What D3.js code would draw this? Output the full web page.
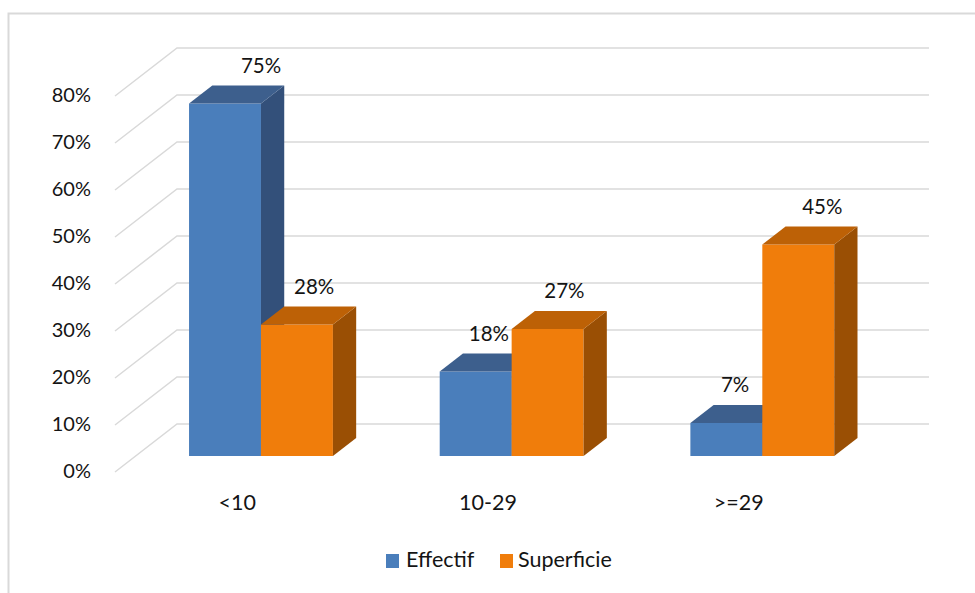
<!DOCTYPE html>
<html>
<head>
<meta charset="utf-8">
<script src="https://cdn.jsdelivr.net/npm/d3@7"></script>
<style>
  html, body { margin: 0; padding: 0; background: #ffffff; }
  svg { display: block; }
  text { font-family: Lato, "Open Sans", sans-serif; fill: #141414; }
</style>
</head>
<body>
<svg id="chart" width="975" height="593"></svg>
<script>
// Share of farms (Effectif) and of farmed area (Superficie) by size class
const categories = ["<10", "10-29", ">=29"];
const seriesNames = ["Effectif", "Superficie"];
const effectif = [0.75, 0.18, 0.07];
const superficie = [0.28, 0.27, 0.45];
const yTickValues = [0, 0.1, 0.2, 0.3, 0.4, 0.5, 0.6, 0.7, 0.8];

const seriesValues = { Effectif: effectif, Superficie: superficie };

const palette = {
  Effectif:   { front: "#4a7ebb", top: "#3d5f8d", side: "#33507a" },
  Superficie: { front: "#f07d0b", top: "#bd6106", side: "#9a4f04" }
};

const W = 975, H = 593;
const svg = d3.select("#chart");

// Outer chart frame
svg.append("rect")
  .attr("x", 8.5).attr("y", 13.5)
  .attr("width", W + 20).attr("height", H + 20)
  .attr("fill", "none").attr("stroke", "#d9d9d9").attr("stroke-width", 2);

// Oblique 3D projection: depth 0 = front of floor, depth 1 = back wall
const depthVec = { dx: 62, dy: -48 };
const proj = (px, py, d) => [px + depthVec.dx * d, py + depthVec.dy * d];

const y = d3.scaleLinear().domain([0, 0.8]).range([472, 96]);
const x = d3.scaleBand().domain(categories).range([115, 867]);
const bw = x.bandwidth();
const barW = bw * 0.287;
const inner = d3.scaleBand().domain(seriesNames).range([0, 2 * barW]);
const d0 = 0.333, d1 = 0.708;   // bar front / back depth

// Gridlines: side wall diagonal + back wall horizontal
const line = d3.line();
svg.append("g").selectAll("path")
  .data(yTickValues)
  .join("path")
  .attr("d", t => line([proj(x.range()[0], y(t), 0), proj(x.range()[0], y(t), 1), proj(x.range()[1], y(t), 1)]))
  .attr("fill", "none")
  .attr("stroke", "#d9d9d9")
  .attr("stroke-width", 1.5);

// Y axis tick labels
svg.append("g").selectAll("text")
  .data(yTickValues)
  .join("text")
  .attr("x", 91)
  .attr("y", t => y(t) + 1)
  .attr("text-anchor", "end")
  .attr("dominant-baseline", "middle")
  .attr("font-size", 20)
  .text(d3.format(".0%"));

// Bars
const bars = [];
categories.forEach((c, i) => {
  seriesNames.forEach(s => {
    const v = seriesValues[s][i];
    const left = x(c) + (bw - 2 * barW) / 2 + inner(s);
    bars.push({ c, s, v, left, right: left + barW });
  });
});

const gBars = svg.append("g");
bars.forEach(b => {
  const col = palette[b.s];
  const yt = y(b.v), yb = y(0);
  const poly = pts => "M" + pts.map(p => p.join(",")).join("L") + "Z";
  // front face
  gBars.append("path")
    .attr("d", poly([proj(b.left, yt, d0), proj(b.right, yt, d0), proj(b.right, yb, d0), proj(b.left, yb, d0)]))
    .attr("fill", col.front);
  // side face
  gBars.append("path")
    .attr("d", poly([proj(b.right, yt, d0), proj(b.right, yt, d1), proj(b.right, yb, d1), proj(b.right, yb, d0)]))
    .attr("fill", col.side);
  // top face
  gBars.append("path")
    .attr("d", poly([proj(b.left, yt, d0), proj(b.right, yt, d0), proj(b.right, yt, d1), proj(b.left, yt, d1)]))
    .attr("fill", col.top);
});

// Value labels above each bar
svg.append("g").selectAll("text")
  .data(bars)
  .join("text")
  .attr("x", b => proj((b.left + b.right) / 2, 0, d0)[0] + 6 + 40 * b.v)
  .attr("y", b => proj(0, y(b.v), d0)[1] - 36)
  .attr("text-anchor", "middle")
  .attr("dominant-baseline", "middle")
  .attr("font-size", 20.5)
  .text(b => d3.format(".0%")(b.v));

// Category labels under the floor
svg.append("g").selectAll("text")
  .data(categories)
  .join("text")
  .attr("x", c => x(c) + bw / 2 - 3)
  .attr("y", 505)
  .attr("text-anchor", "middle")
  .attr("dominant-baseline", "middle")
  .attr("font-size", 21.5)
  .text(c => c);

// Legend
const legendItems = [
  { name: seriesNames[0], x: 386, textX: 406 },
  { name: seriesNames[1], x: 500, textX: 518 }
];
const lg = svg.append("g");
legendItems.forEach(it => {
  lg.append("rect")
    .attr("x", it.x).attr("y", 554).attr("width", 13).attr("height", 14)
    .attr("fill", palette[it.name].front);
  lg.append("text")
    .attr("x", it.textX).attr("y", 562)
    .attr("dominant-baseline", "middle")
    .attr("font-size", 21.5)
    .text(it.name);
});
</script>
</body>
</html>
